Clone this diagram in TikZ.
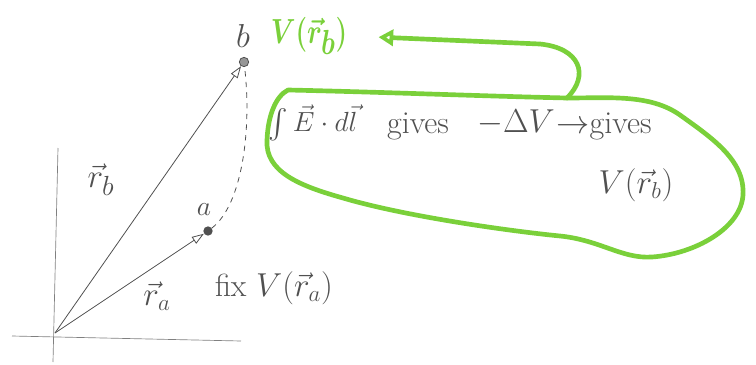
\documentclass[tikz,border=0pt]{standalone}
\usepackage{amsmath,amssymb}
\usetikzlibrary{arrows.meta}
\usepackage{xcolor}
\definecolor{pencil}{RGB}{80,80,80}
\definecolor{marker}{RGB}{122,208,58}

\begin{document}
\begin{tikzpicture}[x=0.75pt, y=-0.75pt,
  pencil/.style={draw=pencil, line width=0.6pt},
  vec/.style={pencil, -{Triangle[open, length=9pt, width=6pt]}},
  dot/.style={circle, fill=pencil, inner sep=0pt, minimum size=7pt},
  marker/.style={draw=marker, line width=3.5pt, line cap=round, line join=round},
  txt/.style={text=pencil, inner sep=1pt, font=\fontsize{24}{28}\selectfont}]
\useasboundingbox (0,0) rectangle (756,364);
% axes
\draw [gray, line width=0.5pt] (58,148)--(53,362) (12,336)--(241,341);
\coordinate (O) at (55,333);
\node [dot] (a) at (208,231) {};
\node [dot, fill=pencil!60, draw=pencil, line width=0.6pt] (b) at (244,62) {};
\draw [vec] (O) -- (a);
\draw [vec] (O) -- (b);
\draw [pencil, dashed, dash pattern=on 4pt off 4pt] (a) .. controls (242,205) and (252,130) .. (b);
\node [txt] (lb) at (243,36) {$b$};
\node [txt, font=\fontsize{22}{24}\selectfont] (la) at (204,210) {$a$};
\node [txt, font=\fontsize{30}{32}\selectfont] (lrb) at (101,180) {$\vec r_b$};
\node [txt, font=\fontsize{26}{28}\selectfont] (lra) at (157,296) {$\vec r_a$};
\node [txt] (fix) at (274,288) {fix $V(\vec r_a)$};
% the loop
\node [text=marker, font=\fontsize{36}{40}\selectfont\bfseries] (vb) at (309,36)
  {\scalebox{0.8}[1.05]{$\boldsymbol{V(\vec r_b)}$}};
\coordinate (join) at (567,98);
\draw [marker] (join) .. controls (610,98) and (650,94) .. (680,115)
  .. controls (712,138) and (745,160) .. (743,195)
  .. controls (741,228) and (695,254) .. (652,257)
  .. controls (622,259) and (600,240) .. (560,236)
  .. controls (500,230) and (400,215) .. (343,198)
  .. controls (300,186) and (265,172) .. (267,140)
  .. controls (268,115) and (276,96) .. (288,90)
  .. controls (380,92) and (480,96) .. (join);
\draw [marker, -{Triangle[open, length=11pt, width=12pt]}, shorten >=20pt]
  (join) .. controls (590,75) and (580,48) .. (540,44) -- (vb.east);
\node [txt, font=\fontsize{22}{26}\selectfont] (int) at (313,123) {$\int \vec E\cdot d\vec l$};
\node [txt] (g1) at (418,126) {gives};
\node [txt] (dv) at (516,123) {$-\Delta V$};
\node [txt] (g2) at (604,126) {$\to$gives};
\node [txt] (vrb) at (636,185) {$V(\vec r_b)$};
\end{tikzpicture}
\end{document}
